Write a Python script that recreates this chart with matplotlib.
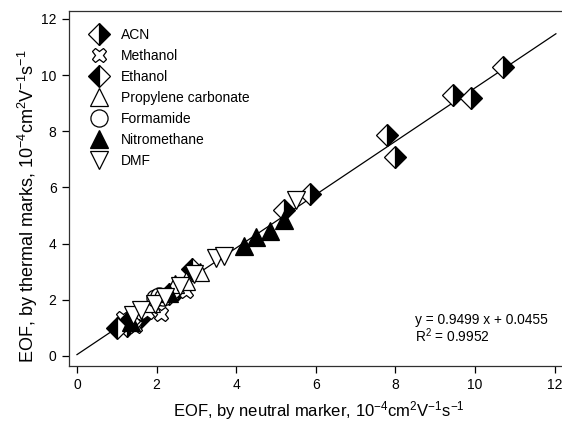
import numpy as np
import matplotlib
matplotlib.use("Agg")
import matplotlib.pyplot as plt
from matplotlib.lines import Line2D

plt.rcParams['font.family'] = ['Liberation Sans', 'DejaVu Sans']
plt.rcParams['mathtext.fontset'] = 'custom'
plt.rcParams['mathtext.rm'] = 'Liberation Sans'
plt.rcParams['mathtext.it'] = 'Liberation Sans'

# EOF: neutral marker (x) vs thermal marks (y)
acn_x = [1.25, 1.6, 2.55, 5.2, 5.85, 7.8, 8.0, 9.45, 9.9, 10.7]
acn_y = [1.05, 1.4, 2.4, 5.2, 5.75, 7.85, 7.1, 9.3, 9.2, 10.3]
methanol_x = [1.15, 1.45, 1.75, 2.1, 2.75]
methanol_y = [1.35, 1.05, 1.55, 1.5, 2.3]
ethanol_x = [1.0, 1.3, 2.3, 2.9]
ethanol_y = [0.98, 1.25, 2.2, 3.1]
propylene_x = [1.85, 2.45, 2.75, 3.1]
propylene_y = [1.9, 2.55, 2.65, 3.0]
formamide_x = [1.95, 2.05, 2.15]
formamide_y = [2.05, 2.15, 2.1]
nitro_x = [1.35, 2.3, 4.2, 4.5, 4.85, 5.2]
nitro_y = [1.2, 2.25, 3.9, 4.25, 4.45, 4.85]
dmf_x = [1.4, 1.6, 1.95, 2.2, 2.6, 2.95, 3.5, 3.7, 5.5]
dmf_y = [1.45, 1.65, 1.85, 2.1, 2.5, 2.9, 3.5, 3.55, 5.55]

slope, intercept, r2 = 0.9499, 0.0455, 0.9952

fig = plt.figure(figsize=(5.62, 4.24), dpi=100)
ax = fig.add_axes([0.1228, 0.1368, 0.889, 0.837])

fit_x = np.array([0, 12.03])
ax.plot(fit_x, slope * fit_x + intercept, color='black', lw=0.9, zorder=1)

ms = 13
dms = 11  # diamonds
series = [
    ('ACN', acn_x, acn_y, dict(marker='D', fillstyle='right', markerfacecolor='black',
                              markerfacecoloralt='white', markersize=dms)),
    ('Methanol', methanol_x, methanol_y, dict(marker='X', markerfacecolor='white', markersize=ms * 0.8)),
    ('Ethanol', ethanol_x, ethanol_y, dict(marker='D', fillstyle='left', markerfacecolor='black',
                                          markerfacecoloralt='white', markersize=dms)),
    ('Propylene carbonate', propylene_x, propylene_y, dict(marker='^', markerfacecolor='white', markersize=ms)),
    ('Formamide', formamide_x, formamide_y, dict(marker='o', markerfacecolor='white', markersize=ms * 0.95)),
    ('Nitromethane', nitro_x, nitro_y, dict(marker='^', markerfacecolor='black', markersize=ms)),
    ('DMF', dmf_x, dmf_y, dict(marker='v', markerfacecolor='white', markersize=ms)),
]

handles = []
for name, xs, ys, st in series:
    ax.plot(xs, ys, ls='none', markeredgecolor='black', markeredgewidth=0.9, zorder=3, **st)
    handles.append(Line2D([], [], ls='none', markeredgecolor='black', markeredgewidth=0.9, label=name, **st))

ax.legend(handles=handles, loc='upper left', bbox_to_anchor=(0.015, 0.975), frameon=False,
          fontsize=10, handletextpad=0.6, labelspacing=0.5, borderaxespad=0.2)

ax.text(8.5, 1.15, 'y = %.4f x + %.4f' % (slope, intercept), fontsize=9.9)
ax.text(8.5, 0.5, 'R$^2$ = %.4f' % r2, fontsize=9.9)

ax.set_xlim(-0.2, 12.35)
ax.set_ylim(-0.36, 12.28)
ax.set_xticks(np.arange(0, 13, 2))
ax.set_yticks(np.arange(0, 13, 2))
ax.tick_params(direction='out', length=5, width=0.9, labelsize=10, pad=4)
for s in ax.spines.values():
    s.set_linewidth(0.9)
    s.set_color('#303030')

ax.set_xlabel('EOF, by neutral marker, 10$^{-4}$cm$^2$V$^{-1}$s$^{-1}$', fontsize=12, labelpad=5)
ax.set_ylabel('EOF, by thermal marks, 10$^{-4}$cm$^2$V$^{-1}$s$^{-1}$', fontsize=13)
ax.yaxis.set_label_coords(-0.058, 0.45)

fig.savefig('out.png', dpi=100)
